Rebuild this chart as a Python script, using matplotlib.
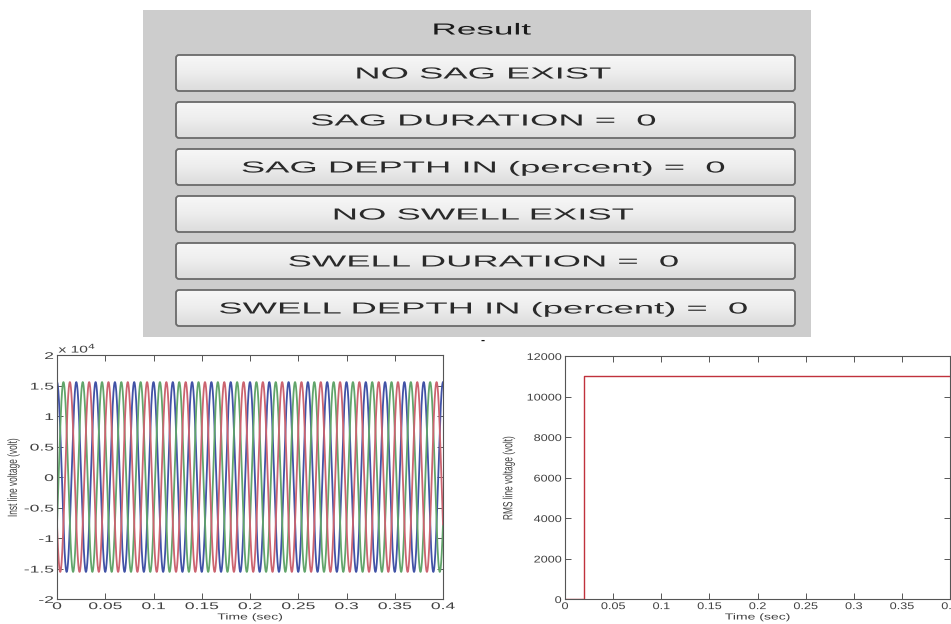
import numpy as np
import matplotlib
matplotlib.use("Agg")
import matplotlib.pyplot as plt
from matplotlib import patheffects
from matplotlib.transforms import Affine2D
from matplotlib.patches import Rectangle, FancyBboxPatch

# ---- data -------------------------------------------------------------
result_title = "Result"
result_lines = [
    "NO SAG EXIST",
    "SAG DURATION =  0",
    "SAG DEPTH IN (percent) =  0",
    "NO SWELL EXIST",
    "SWELL DURATION =  0",
    "SWELL DEPTH IN (percent) =  0",
]

sim_end_sec = 0.4
supply_freq_hz = 50
line_rms_volt = 11000
phase_shift_deg = [90, -30, 210]
phase_colors = ["#4152a6", "#62a56b", "#cc6470"]

rms_time_sec = [0.0, 0.02, 0.02, 0.4]
rms_line_volt = [0, 0, 11000, 11000]

time_ticks = [0, 0.05, 0.1, 0.15, 0.2, 0.25, 0.3, 0.35, 0.4]
time_tick_labels = ["0", "0.05", "0.1", "0.15", "0.2", "0.25", "0.3", "0.35", "0.4"]
inst_ticks = [-2, -1.5, -1, -0.5, 0, 0.5, 1, 1.5, 2]
inst_tick_labels = ["-2", "-1.5", "-1", "-0.5", "0", "0.5", "1", "1.5", "2"]
rms_ticks = [0, 2000, 4000, 6000, 8000, 10000, 12000]
rms_tick_labels = ["0", "2000", "4000", "6000", "8000", "10000", "12000"]

# ---- helpers ----------------------------------------------------------
class HStretch(patheffects.AbstractPathEffect):
    """Widen glyph outlines horizontally about an anchor edge."""

    def __init__(self, sx, anchor="center"):
        super().__init__()
        self.sx = sx
        self.anchor = anchor

    def draw_path(self, renderer, gc, tpath, affine, rgbFace=None):
        ext = tpath.get_extents(affine)
        if self.anchor == "left":
            cx = ext.x0
        elif self.anchor == "right":
            cx = ext.x1
        else:
            cx = 0.5 * (ext.x0 + ext.x1)
        wide = affine + Affine2D().translate(-cx, 0).scale(self.sx, 1).translate(cx, 0)
        renderer.draw_path(gc, tpath, wide, rgbFace)


FONT = "Liberation Sans"
W, H = 951, 624
fig = plt.figure(figsize=(W / 100, H / 100), dpi=100)
fig.patch.set_facecolor("white")

# ---- result panel ------------------------------------------------------
ov = fig.add_axes([0, 0, 1, 1])
ov.set_xlim(0, W)
ov.set_ylim(H, 0)
ov.axis("off")

ov.add_patch(Rectangle((143, 10), 668, 327, facecolor="#cdcdcd", edgecolor="none"))
ov.text(482, 30, result_title, ha="center", va="center", fontsize=11.5,
        family=FONT, color="#1a1a1a", path_effects=[HStretch(2.2)])

grad = np.linspace(0, 1, 64).reshape(-1, 1)
btn_cmap = matplotlib.colors.LinearSegmentedColormap.from_list(
    "btn", ["#f7f7f7", "#ededed", "#dcdcdc"])
for i, label in enumerate(result_lines):
    top = 55 + i * 47
    x0, w, h = 176, 619, 36
    box = FancyBboxPatch((x0, top), w, h, boxstyle="round,pad=0,rounding_size=3",
                         facecolor="none", edgecolor="#6a6a6a", linewidth=1.3, zorder=3)
    ov.add_patch(box)
    img = ov.imshow(grad, cmap=btn_cmap, extent=(x0, x0 + w, top + h, top),
                    aspect="auto", zorder=2, interpolation="bilinear")
    img.set_clip_path(box)
    ov.text(x0 + w / 2 - 2, top + h / 2 + 1, label, ha="center", va="center",
            fontsize=11.5, family=FONT, color="#2a2a2a", zorder=4,
            path_effects=[HStretch(2.28)])
ov.text(483, 341, "-", ha="center", va="center", fontsize=9, family=FONT,
        color="#111111", fontweight="bold")
ov.set_xlim(0, W)
ov.set_ylim(H, 0)


def style_axes(ax, yticks, ylabels, sx):
    ax.set_xlim(0, sim_end_sec)
    ax.set_xticks(time_ticks)
    ax.set_xticklabels(time_tick_labels)
    ax.set_yticks(yticks)
    ax.set_yticklabels(ylabels)
    ax.tick_params(direction="in", length=4, width=0.7, top=True, right=True,
                   labelsize=7, labelcolor="#404040", color="#555555", pad=1.5)
    ax.tick_params(axis="y", pad=2.5)
    for s in ax.spines.values():
        s.set_color("#555555")
        s.set_linewidth(0.8)
    for lab in ax.get_xticklabels():
        lab.set_family(FONT)
        lab.set_path_effects([HStretch(sx, "center")])
    for lab in ax.get_yticklabels():
        lab.set_family(FONT)
        lab.set_path_effects([HStretch(sx, "right")])


AX_TOP, AX_BOT = 355, 599
ax_h = AX_BOT - AX_TOP

# ---- instantaneous line voltages ---------------------------------------
ax1 = fig.add_axes([57 / W, 1 - AX_BOT / H, 386 / W, ax_h / H])
t = np.linspace(0, sim_end_sec, 4001)
peak = line_rms_volt * np.sqrt(2)
for ph, col in zip(phase_shift_deg, phase_colors):
    ax1.plot(t, peak * np.sin(2 * np.pi * supply_freq_hz * t + np.deg2rad(ph)) / 1e4,
             color=col, linewidth=1.3)
ax1.set_ylim(-2, 2)
style_axes(ax1, inst_ticks, inst_tick_labels, 1.8)
ax1.set_xlabel("Time (sec)", fontsize=6.3, family=FONT, color="#404040",
               path_effects=[HStretch(1.6)])
ax1.xaxis.set_label_coords(0.5, -13.5 / ax_h)
ax1.set_ylabel("Inst line voltage (volt)", fontsize=6, family=FONT, color="#404040",
               path_effects=[HStretch(1.6)])
ax1.yaxis.set_label_coords(-0.102, 0.5)
ax1.text(0.004, 1.03, r"x 10$^{4}$", transform=ax1.transAxes, ha="left", va="center",
         fontsize=7, family=FONT, color="#404040", path_effects=[HStretch(1.6, "left")])

# ---- RMS line voltage ---------------------------------------------------
ax2 = fig.add_axes([565 / W, 1 - AX_BOT / H, 385 / W, (ax_h - 1) / H])
ax2.plot(rms_time_sec, rms_line_volt, color="#c0323c", linewidth=1.0)
ax2.set_ylim(0, 12000)
style_axes(ax2, rms_ticks, rms_tick_labels, 1.3)
ax2.set_xlabel("Time (sec)", fontsize=6.3, family=FONT, color="#404040",
               path_effects=[HStretch(1.6)])
ax2.xaxis.set_label_coords(0.5, -13.5 / (ax_h - 1))
ax2.set_ylabel("RMS line voltage (volt)", fontsize=6, family=FONT, color="#404040",
               path_effects=[HStretch(1.6)])
ax2.yaxis.set_label_coords(-0.135, 0.5)

fig.savefig("out.png", dpi=100)
